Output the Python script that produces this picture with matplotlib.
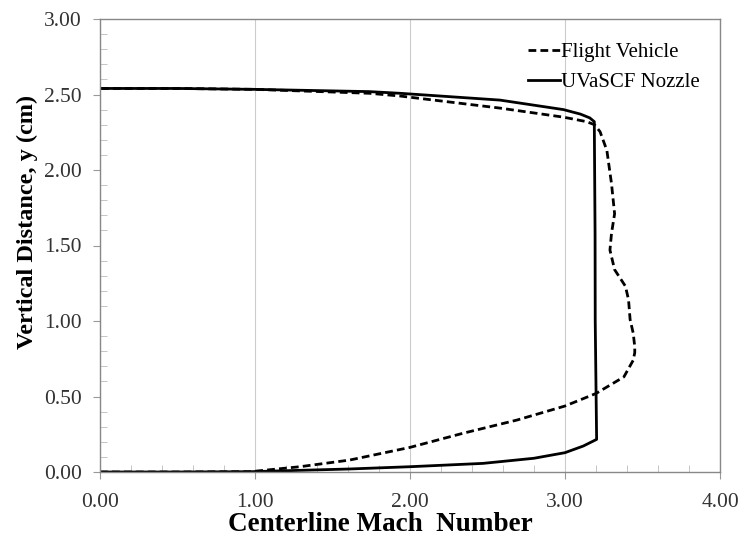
import matplotlib
matplotlib.use("Agg")
import matplotlib.pyplot as plt
from matplotlib.ticker import MultipleLocator, FormatStrFormatter

# Flight Vehicle (dashed)
fv_mach = [0.0, 0.5, 0.97, 1.29, 1.61, 2.0, 2.34, 2.69, 3.0, 3.20, 3.38, 3.44, 3.45, 3.45, 3.44, 3.42,
           3.41, 3.39, 3.32, 3.29, 3.30, 3.32, 3.30, 3.27, 3.226, 3.19, 3.14, 2.99, 2.58, 1.935, 1.74,
           1.0, 0.5, 0.0]
fv_y = [0.0, 0.0, 0.002, 0.035, 0.079, 0.163, 0.256, 0.344, 0.437, 0.52, 0.63, 0.74, 0.79, 0.83, 0.92, 1.01,
        1.14, 1.23, 1.34, 1.47, 1.58, 1.71, 1.91, 2.13, 2.254, 2.30, 2.32, 2.35, 2.41, 2.49, 2.508,
        2.534, 2.54, 2.54]

# UVaSCF Nozzle (solid)
uv_mach = [0.0, 0.5, 0.97, 1.61, 2.0, 2.47, 2.80, 3.0, 3.118, 3.204, 3.195, 3.194, 3.189, 3.16, 3.10,
           2.99, 2.58, 1.935, 1.74, 1.0, 0.5, 0.0]
uv_y = [0.0, 0.0, 0.002, 0.02, 0.035, 0.057, 0.091, 0.128, 0.172, 0.216, 1.0, 1.58, 2.32, 2.345, 2.37,
        2.40, 2.463, 2.508, 2.519, 2.534, 2.54, 2.54]

x_ticks = [0, 1, 2, 3, 4]
y_ticks = [0.0, 0.5, 1.0, 1.5, 2.0, 2.5, 3.0]

plt.rcParams['font.family'] = ['Liberation Serif', 'DejaVu Serif']

fig = plt.figure(figsize=(7.41, 5.42), dpi=100)
ax = fig.add_axes([100/741, 1 - 472/542, 620/741, 453/542])

ax.plot(fv_mach, fv_y, color='black', linestyle=(0, (2.8, 1.5)), linewidth=2.0, label='Flight Vehicle')
ax.plot(uv_mach, uv_y, color='black', linestyle='-', linewidth=2.0, label='UVaSCF Nozzle')

ax.set_xlim(0, 4)
ax.set_ylim(0, 3)
ax.set_xticks(x_ticks)
ax.set_yticks(y_ticks)
ax.xaxis.set_major_formatter(FormatStrFormatter('%.2f'))
ax.yaxis.set_major_formatter(FormatStrFormatter('%.2f'))
ax.xaxis.set_minor_locator(MultipleLocator(0.2))
ax.yaxis.set_minor_locator(MultipleLocator(0.1))
ax.tick_params(which='major', direction='out', length=5, color='#999999', labelsize=15.5,
               labelcolor='#333333')
ax.tick_params(axis='y', which='major', pad=8)
ax.tick_params(axis='x', which='major', pad=10)
ax.tick_params(which='minor', direction='in', length=5, color='#bbbbbb')
ax.grid(axis='x', which='major', color='#cccccc', linewidth=0.8)
for s in ax.spines.values():
    s.set_color('#888888')
    s.set_linewidth(1.0)

ax.set_xlabel('Centerline Mach  Number', fontsize=19.5, fontweight='bold')
ax.set_ylabel('Vertical Distance, y (cm)', fontsize=17.5, fontweight='bold')
ax.xaxis.set_label_coords(0.453, -0.088)
ax.yaxis.set_label_coords(-0.100, 0.552)

leg = ax.legend(loc='upper left', bbox_to_anchor=(0.690, 0.948), frameon=False, fontsize=15,
                handlelength=1.55, handletextpad=0.05, borderaxespad=0.0, borderpad=0.0,
                labelspacing=0.5)

fig.savefig('out.png', dpi=100)
